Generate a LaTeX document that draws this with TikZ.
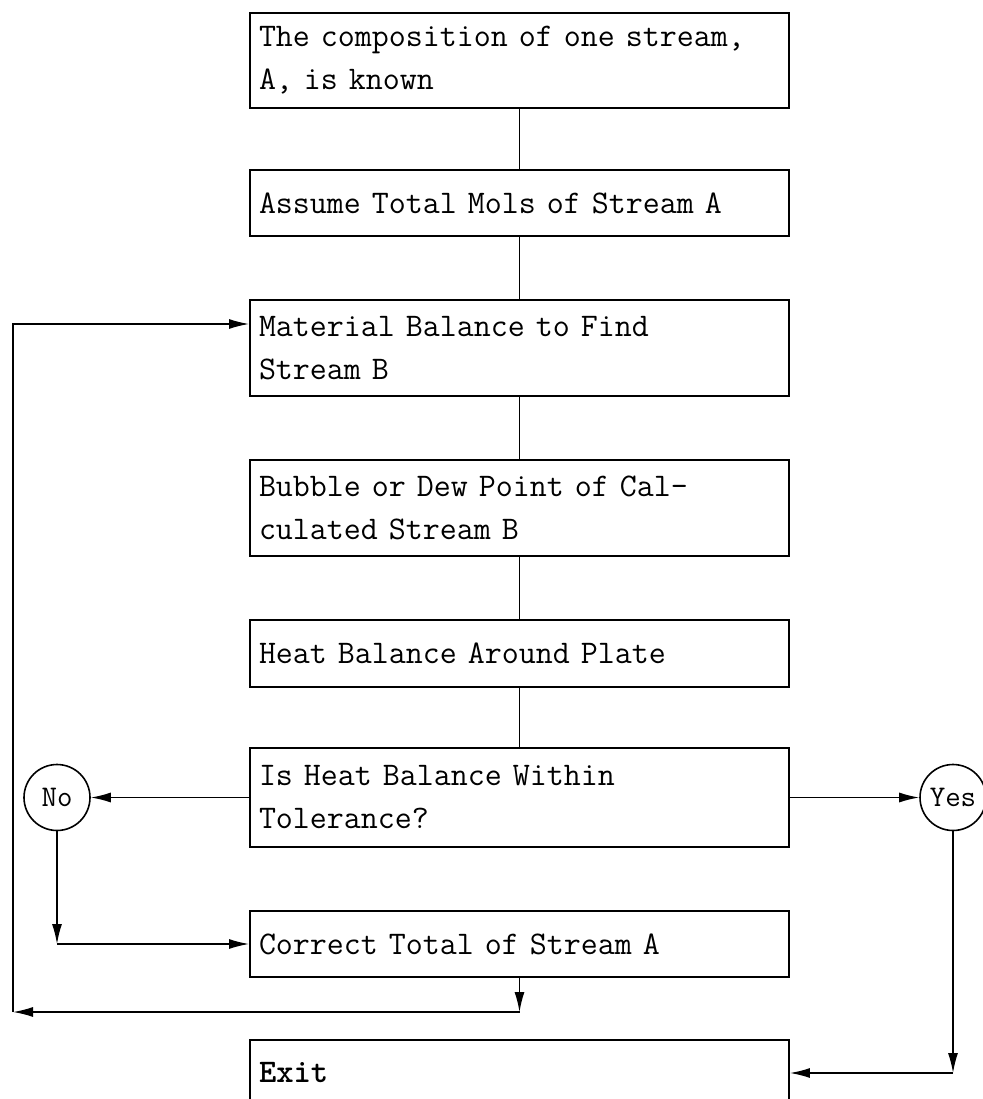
\documentclass[tikz,border=0pt]{standalone}
\usetikzlibrary{arrows.meta}
\tikzset{every picture/.style={line width=1.4pt}}

\begin{document}
\begin{tikzpicture}[x=1pt,y=-1pt,
  stepbox/.style={draw,line width=1.9pt,text width=521pt,align=left,inner xsep=9pt,inner ysep=0pt,
    font=\ttfamily\fontsize{33}{43}\selectfont},
  answer/.style={draw,circle,line width=1.6pt,minimum size=66pt,inner sep=0pt,
    font=\ttfamily\fontsize{30}{32}\selectfont},
  flow/.style={-{Latex[length=20pt,width=10pt]}}]
\useasboundingbox (0,0) rectangle (982,1099);
\node[stepbox,minimum height=95pt] (b1) at (519.5,60.5) {The composition of one stream,\\A, is known};
\node[stepbox,minimum height=66pt] (b2) at (519.5,203) {Assume Total Mols of Stream A};
\node[stepbox,minimum height=96pt] (b3) at (519.5,348) {Material Balance to Find\\Stream B};
\node[stepbox,minimum height=96pt] (b4) at (519.5,508) {Bubble or Dew Point of Cal-\\culated Stream B};
\node[stepbox,minimum height=67pt] (b5) at (519.5,653.5) {Heat Balance Around Plate};
\node[stepbox,minimum height=99pt] (b6) at (519.5,797.5) {Is Heat Balance Within\\Tolerance?};
\node[stepbox,minimum height=66pt] (b7) at (519.5,944) {Correct Total of Stream A};
\node[stepbox,minimum height=66pt] (exit) at (519.5,1073) {\bfseries Exit};
\node[answer] (no) at (57,797.5) {No};
\node[answer] (yes) at (953,797.5) {Yes};
\coordinate (backcorner) at (13,1012);
\coordinate (backtop) at (13,324);
\draw (b1.south) -- (b2.north);
\draw (b2.south) -- (b3.north);
\draw (b3.south) -- (b4.north);
\draw (b4.south) -- (b5.north);
\draw (b5.south) -- (b6.north);
\draw[flow] (b6.west) -- (no);
\draw[flow] (b6.east) -- (yes);
\draw[flow] (no.south) -- (no.south |- b7.west);
\draw[flow] (no.south |- b7.west) -- (b7.west);
\draw[flow] (yes.south) -- (yes.south |- exit.east);
\draw[flow] (yes.south |- exit.east) -- (exit.east);
\draw[flow] (b7.south) -- (b7.south |- backcorner);
\draw[flow] (b7.south |- backcorner) -- (backcorner);
\draw[flow] (backcorner) -- (backtop) -- (backtop -| b3.west);
\end{tikzpicture}
\end{document}
